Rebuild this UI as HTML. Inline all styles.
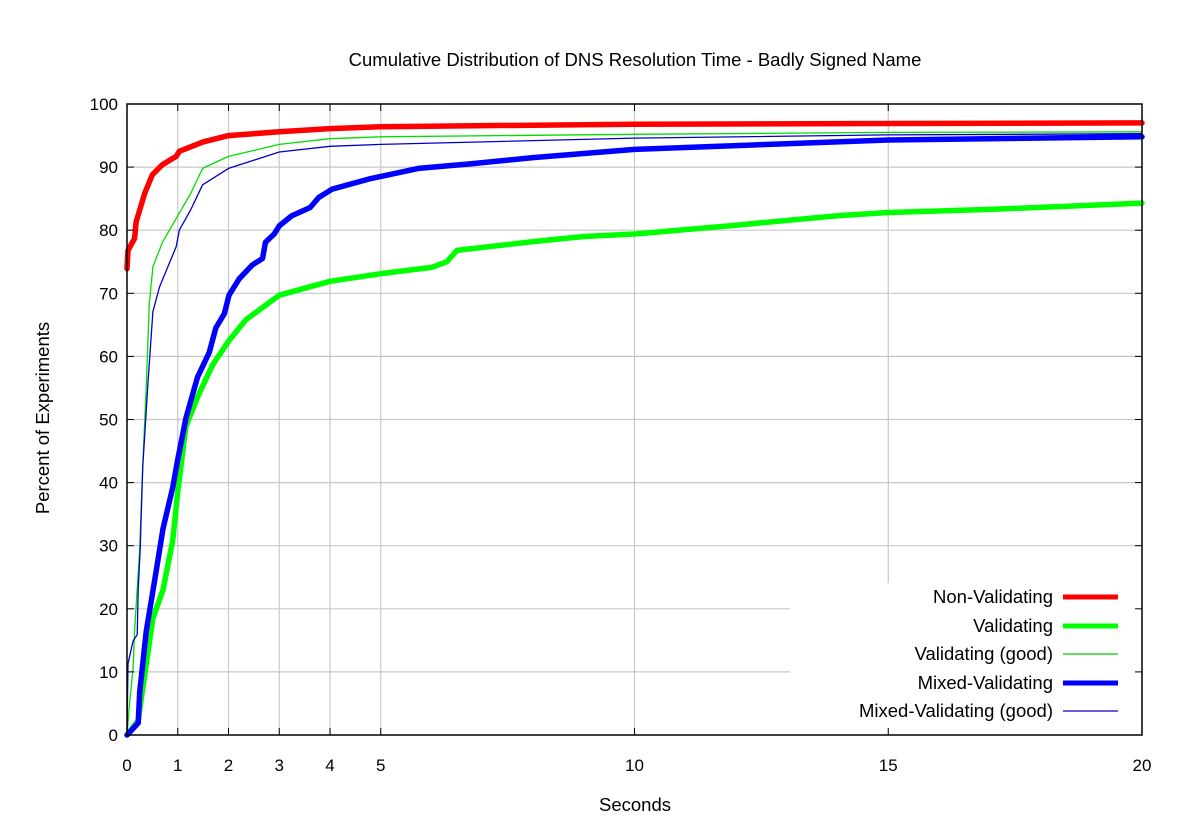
<!DOCTYPE html>
<html><head><meta charset="utf-8"><style>
html,body{margin:0;padding:0;background:#fff;}
svg{display:block;font-family:"Liberation Sans",sans-serif;}
</style></head><body>
<svg id="s" width="1197" height="830" xmlns="http://www.w3.org/2000/svg">
<rect width="1197" height="830" fill="#fff"/>
<g id="grid" stroke="#c8c8c8" stroke-width="1.2"></g>
<rect x="790" y="583" width="351" height="151" fill="#fff"/>
<g id="curves" fill="none" stroke-linejoin="round" stroke-linecap="round"></g>
<rect x="127" y="104" width="1015" height="631" fill="none" stroke="#000" stroke-width="1.5"/>
<g id="ticks" stroke="#000" stroke-width="1"></g>
<g id="labels" font-size="17" fill="#000"></g>
<text x="635" y="66" font-size="18.5" text-anchor="middle">Cumulative Distribution of DNS Resolution Time - Badly Signed Name</text>
<text x="635" y="811" font-size="18.5" text-anchor="middle">Seconds</text>
<text transform="translate(49,418) rotate(-90)" font-size="18.5" text-anchor="middle">Percent of Experiments</text>
<g font-size="18.5" text-anchor="end">
<text x="1053" y="603">Non-Validating</text>
<text x="1053" y="632">Validating</text>
<text x="1053" y="660">Validating (good)</text>
<text x="1053" y="689">Mixed-Validating</text>
<text x="1053" y="717">Mixed-Validating (good)</text>
</g>
<g stroke-linecap="butt">
<line x1="1063" y1="597" x2="1118" y2="597" stroke="#f00" stroke-width="5"/>
<line x1="1063" y1="626" x2="1118" y2="626" stroke="#0f0" stroke-width="5"/>
<line x1="1063" y1="654" x2="1118" y2="654" stroke="#0c0" stroke-width="1.2"/>
<line x1="1063" y1="683" x2="1118" y2="683" stroke="#00f" stroke-width="5"/>
<line x1="1063" y1="711" x2="1118" y2="711" stroke="#00c" stroke-width="1.2"/>
</g>
</svg>
<script>
var NS="http://www.w3.org/2000/svg";
function X(s){return 127+s*50.75;}
function Y(p){return 735-p*6.31;}
function el(p,t,a,txt){var e=document.createElementNS(NS,t);for(var k in a)e.setAttribute(k,a[k]);if(txt!==undefined)e.textContent=txt;document.getElementById(p).appendChild(e);}
[1,2,3,4,5,10,15].forEach(function(s){el("grid","line",{x1:X(s),x2:X(s),y1:104,y2:s==15?583:735});});
for(var p=10;p<=90;p+=10){el("grid","line",{x1:127,x2:(p<=20?790:1142),y1:Y(p),y2:Y(p)});}
[0,1,2,3,4,5,10,15,20].forEach(function(s){el("ticks","line",{x1:X(s),x2:X(s),y1:735,y2:728});el("ticks","line",{x1:X(s),x2:X(s),y1:104,y2:111});el("labels","text",{x:X(s),y:771,"text-anchor":"middle"},""+s);});
for(var p=0;p<=100;p+=10){el("ticks","line",{x1:127,x2:134,y1:Y(p),y2:Y(p)});el("ticks","line",{x1:1142,x2:1135,y1:Y(p),y2:Y(p)});el("labels","text",{x:118,y:Y(p)+6,"text-anchor":"end"},""+p);}
function path(d,c,w){var s="";d.forEach(function(q,i){s+=(i?"L":"M")+X(q[0]).toFixed(1)+","+Y(q[1]).toFixed(1);});el("curves","path",{d:s,stroke:c,"stroke-width":w});}
var gT=[[0,0],[0.22,2.3],[0.38,11.3],[0.51,18.5],[0.71,23],[0.9,30.8],[1,38.6],[1.16,48.9],[1.42,54.1],[1.69,58.7],[2.01,62.5],[2.34,65.8],[3,69.7],[4,71.9],[5,73.1],[6,74.1],[6.3,75],[6.5,76.8],[8,78.2],[9,79],[10,79.4],[12,80.8],[14,82.3],[15,82.8],[17,83.3],[20,84.3]];
var bT=[[0,0],[0.22,1.9],[0.25,6.8],[0.38,16.5],[0.58,26.2],[0.71,32.7],[0.9,39.2],[1,43.7],[1.16,50.2],[1.39,56.7],[1.62,60.6],[1.75,64.5],[1.92,66.8],[2.01,69.7],[2.21,72.3],[2.47,74.5],[2.67,75.5],[2.73,78.1],[2.9,79.4],[3,80.7],[3.25,82.3],[3.61,83.6],[3.78,85.2],[4.04,86.5],[4.76,88.1],[5.74,89.8],[6.76,90.5],[8,91.5],[10,92.8],[12,93.4],[15,94.3],[20,94.8]];
var gt=[[0,0],[0.05,4.9],[0.12,10.7],[0.15,16.5],[0.25,29.5],[0.31,42.4],[0.38,55.4],[0.44,68.4],[0.51,74.2],[0.7,78.1],[1,82.3],[1.26,85.9],[1.49,89.8],[2,91.7],[3,93.6],[4,94.5],[5,94.8],[10,95.2],[15,95.5],[20,95.6]];
var bt=[[0,0],[0.02,11.3],[0.12,14.9],[0.2,15.9],[0.22,23],[0.26,29.5],[0.31,42.4],[0.41,55.4],[0.51,67.1],[0.64,71],[0.97,77.4],[1.03,80],[1.26,83.3],[1.49,87.2],[2,89.8],[3,92.4],[4,93.3],[5,93.6],[10,94.6],[15,95.1],[20,95.3]];
var r=[[0,73.9],[0.02,76.8],[0.15,78.7],[0.18,81.3],[0.35,85.9],[0.5,88.8],[0.7,90.4],[0.97,91.7],[1.03,92.5],[1.5,94],[2,95],[3,95.6],[4,96.1],[5,96.4],[10,96.8],[20,97]];
path(gT,"#0f0",5.5);path(bT,"#00f",5.5);path(gt,"#0d0",1.3);path(bt,"#00c",1.3);path(r,"#f00",5.5);
</script>
</body></html>
